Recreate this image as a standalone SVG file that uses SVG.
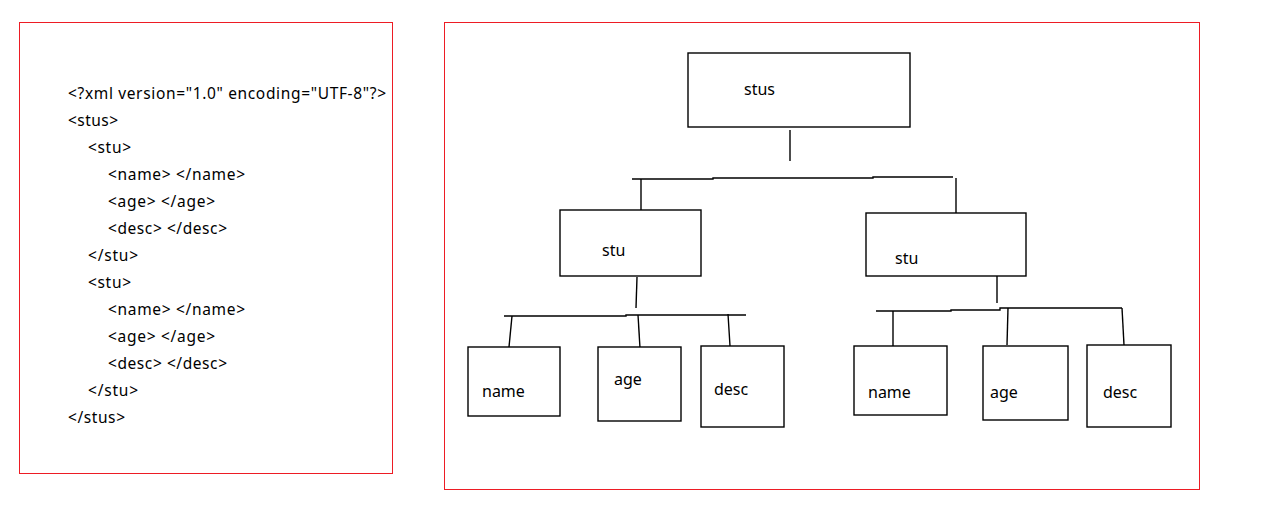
<svg xmlns="http://www.w3.org/2000/svg" width="1264" height="509" viewBox="0 0 1264 509">
<style>
.frame{fill:none;stroke:#ed1c24;stroke-width:1}
.box{fill:#fff;stroke:#000;stroke-width:1.4}
.ln{fill:none;stroke:#000;stroke-width:1.4}
.code{font-family:"Noto Sans","Open Sans",sans-serif;font-size:15.5px;fill:#000}
.lbl{font-family:"Noto Sans","Open Sans",sans-serif;font-size:16px;fill:#000}
</style>
<rect width="1264" height="509" fill="#fff"/>
<rect class="frame" x="19.5" y="22.5" width="373" height="451"/>
<rect class="frame" x="444.5" y="22.5" width="755" height="467"/>
<g id="xml-code" class="code">
<text x="68" y="99" textLength="318" lengthAdjust="spacing">&lt;?xml version="1.0" encoding="UTF-8"?&gt;</text>
<text x="68" y="126" textLength="50" lengthAdjust="spacing">&lt;stus&gt;</text>
<text x="88" y="153" textLength="43" lengthAdjust="spacing">&lt;stu&gt;</text>
<text x="108" y="180" textLength="137" lengthAdjust="spacing">&lt;name&gt; &lt;/name&gt;</text>
<text x="108" y="207" textLength="107" lengthAdjust="spacing">&lt;age&gt; &lt;/age&gt;</text>
<text x="108" y="234" textLength="119" lengthAdjust="spacing">&lt;desc&gt; &lt;/desc&gt;</text>
<text x="88" y="261" textLength="50" lengthAdjust="spacing">&lt;/stu&gt;</text>
<text x="88" y="288" textLength="43" lengthAdjust="spacing">&lt;stu&gt;</text>
<text x="108" y="315" textLength="137" lengthAdjust="spacing">&lt;name&gt; &lt;/name&gt;</text>
<text x="108" y="342" textLength="107" lengthAdjust="spacing">&lt;age&gt; &lt;/age&gt;</text>
<text x="108" y="369" textLength="119" lengthAdjust="spacing">&lt;desc&gt; &lt;/desc&gt;</text>
<text x="88" y="396" textLength="50" lengthAdjust="spacing">&lt;/stu&gt;</text>
<text x="68" y="423" textLength="57" lengthAdjust="spacing">&lt;/stus&gt;</text>
</g>
<g id="connectors" class="ln">
<path d="M790 130V161"/>
<path d="M632 179H713L713 178H873L873 177H953"/>
<path d="M641 179V217"/>
<path d="M956 178V225"/>
<path d="M637 277L636 308"/>
<path d="M504 316H626L626 315H746"/>
<path d="M512 316L509 347"/>
<path d="M638 315L640 348"/>
<path d="M728 314L730 346"/>
<path d="M997 276V303"/>
<path d="M876 311H951L951 310H1000L1000 308H1122"/>
<path d="M893 311V347"/>
<path d="M1008 308L1007 345"/>
<path d="M1122 308L1124 345"/>
</g>
<g id="stus"><rect class="box" x="688" y="53" width="222" height="74"/><text class="lbl" x="744" y="95">stus</text></g>
<g id="stu1"><rect class="box" x="560" y="210" width="141" height="66"/><text class="lbl" x="602" y="256">stu</text></g>
<g id="stu2"><rect class="box" x="866" y="213" width="160" height="63"/><text class="lbl" x="895" y="264">stu</text></g>
<g id="name1"><rect class="box" x="468" y="347" width="92" height="69"/><text class="lbl" x="482" y="397">name</text></g>
<g id="age1"><rect class="box" x="598" y="347" width="83" height="74"/><text class="lbl" x="614" y="385">age</text></g>
<g id="desc1"><rect class="box" x="701" y="346" width="83" height="81"/><text class="lbl" x="714" y="395">desc</text></g>
<g id="name2"><rect class="box" x="854" y="346" width="93" height="69"/><text class="lbl" x="868" y="398">name</text></g>
<g id="age2"><rect class="box" x="983" y="346" width="85" height="74"/><text class="lbl" x="990" y="398">age</text></g>
<g id="desc2"><rect class="box" x="1087" y="345" width="84" height="82"/><text class="lbl" x="1103" y="398">desc</text></g>
</svg>
